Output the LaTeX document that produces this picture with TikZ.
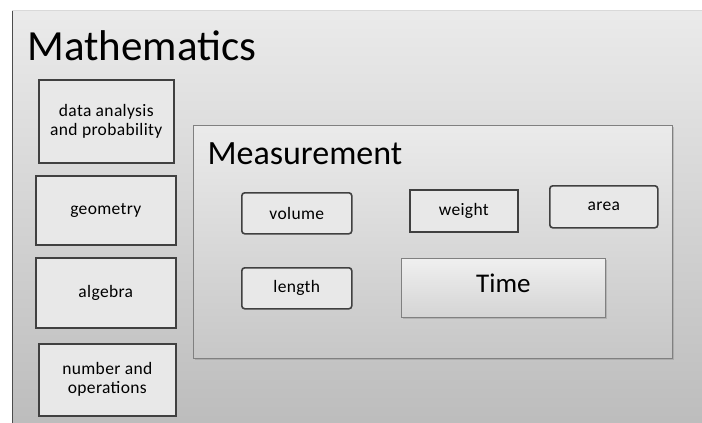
\documentclass[tikz,border=0pt]{standalone}
\usepackage{fontspec}
\setmainfont{Carlito}
\usetikzlibrary{shadows}

\tikzset{
  topicbox/.style={draw=black!75, line width=1.6pt, fill=black!9, align=center,
    inner sep=2pt, anchor=north west, font=\fontsize{17.5}{19}\selectfont\addfontfeatures{LetterSpace=2}},
  roundtopic/.style={topicbox, rounded corners=3pt},
  panelbox/.style={draw=black!50, line width=0.8pt, anchor=north west,
    top color=black!8, bottom color=black!22,
    drop shadow={shadow xshift=2pt, shadow yshift=-2pt, opacity=0.35}},
}

\begin{document}
\begin{tikzpicture}[x=1pt,y=-1pt]
  \useasboundingbox (0,0) rectangle (702,423);
  \fill[white] (0,0) rectangle (702,423);

  % the big panel
  \shade[top color=black!8, bottom color=black!26] (12,10) rectangle (702,423);
  \draw[black!70, line width=1pt] (12,423) -- (12,10);
  \draw[black!15, line width=0.6pt] (12,10) -- (702,10);
  \node[anchor=base west, font=\fontsize{43}{46}\selectfont] (maths) at (24,60) {Mathematics};

  % strands on the left
  \node[topicbox, minimum width=135pt, minimum height=83pt] (data) at (38,79) {data analysis\\and probability};
  \node[topicbox, minimum width=140pt, minimum height=69pt] (geom) at (35,175) {geometry};
  \node[topicbox, minimum width=140pt, minimum height=70pt] (alg) at (35,257) {algebra};
  \node[topicbox, minimum width=137pt, minimum height=72pt] (numops) at (38,343) {number and\\operations};

  % measurement
  \node[panelbox, minimum width=479pt, minimum height=233pt] (measure) at (193,125) {};
  \node[anchor=base west, font=\fontsize{34}{36}\selectfont] (mtitle) at (204,164) {Measurement};

  \node[roundtopic, minimum width=110pt, minimum height=41pt] (volume) at (241,192) {volume};
  \node[topicbox, minimum width=108pt, minimum height=42pt] (weight) at (409,189) {weight};
  \node[roundtopic, minimum width=108pt, minimum height=42pt] (area) at (549,185) {area};
  \node[roundtopic, minimum width=110pt, minimum height=41pt] (length) at (241,267) {length};
  \node[panelbox, top color=black!6, bottom color=black!17, minimum width=204pt,
    minimum height=59pt, font=\fontsize{27}{30}\selectfont, text depth=10pt] (time) at (401,258) {Time};
\end{tikzpicture}
\end{document}
